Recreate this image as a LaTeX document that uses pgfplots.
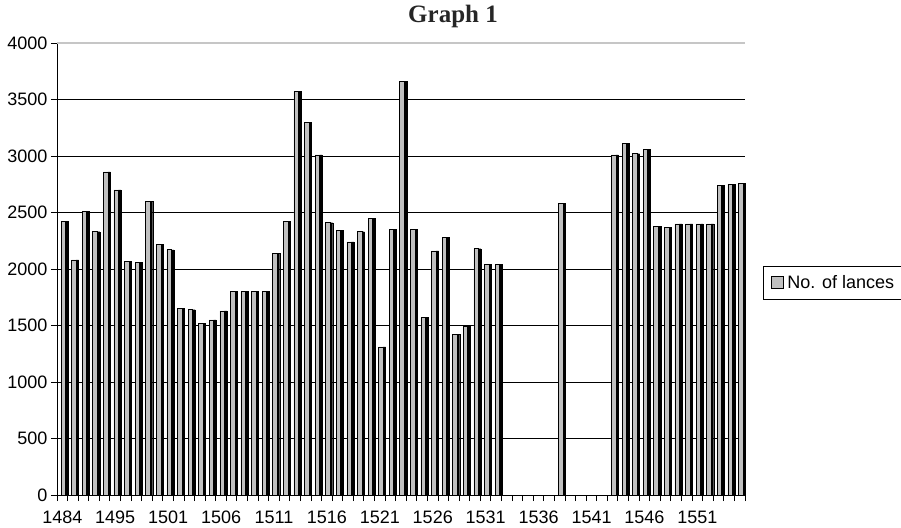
\documentclass[border=0pt]{standalone}
\usepackage{pgfplots}
\usepackage{pgfplotstable}
\pgfplotsset{compat=1.18}
\usepackage{fontspec}
\setmainfont{Liberation Sans}
\newfontfamily\titlefont{Liberation Serif}
\definecolor{barg}{HTML}{C0C0C0}
\pgfplotstableread{
x y
0 2420
1 2080
2 2510
3 2330
4 2860
5 2700
6 2070
7 2060
8 2600
9 2220
10 2170
11 1650
12 1640
13 1520
14 1550
15 1630
16 1800
17 1800
18 1800
19 1800
20 2140
21 2420
22 3570
23 3300
24 3010
25 2410
26 2340
27 2240
28 2330
29 2450
30 1310
31 2350
32 3660
33 2350
34 1570
35 2160
36 2280
37 1420
38 1490
39 2180
40 2040
41 2040
47 2580
52 3010
53 3110
54 3020
55 3060
56 2380
57 2370
58 2400
59 2400
60 2400
61 2400
62 2740
63 2750
64 2760
}\lances
\begin{document}
\begin{tikzpicture}[x=1pt,y=1pt]
\path[use as bounding box] (0,0) rectangle (901,-527);
\node[anchor=base, font=\titlefont\bfseries\fontsize{25}{28}\selectfont, text=black!85] at (453,-23) {Graph 1};
\begin{axis}[
 at={(57pt,-495pt)}, anchor=south west,
 scale only axis, width=688pt, height=452pt,
 xmin=-0.5, xmax=64.5, ymin=0, ymax=4000,
 axis x line=bottom, axis y line=left,
 axis line style={-, black, line width=1pt},
 ytick={0,500,...,4000},
 xtick={-0.5,0.5,...,64.5}, xticklabels={},
 extra x ticks={0,5,...,60},
 extra x tick labels={1484,1495,1501,1506,1511,1516,1521,1526,1531,1536,1541,1546,1551},
 extra x tick style={major tick length=0pt, xticklabel style={anchor=base, yshift=-28pt}},
 tick align=outside, major tick length=6pt,
 tick style={black, line width=1pt},
 ymajorgrids, grid style={black, line width=1pt},
 /pgf/number format/assume math mode=true,
 /pgf/number format/set thousands separator={},
 tick label style={font=\fontsize{18}{20}\selectfont},
 clip=false,
 legend style={at={(axis description cs:1.026,0.5066)}, anchor=north west,
   draw=black, line width=1pt, font=\fontsize{18}{20}\selectfont,
   inner xsep=5pt, inner ysep=7pt, cells={anchor=west}},
 legend image code/.code={\path[draw=none,fill=none] (-3pt,-1pt) rectangle (14pt,1pt);\draw[fill=barg, draw=black, line width=0.7pt] (0pt,-6pt) rectangle (12pt,6pt);},
]
\addplot[ybar, bar width=2.5pt, bar shift=4.5pt, fill=black, draw=black, line width=0.3pt, forget plot] table[x=x,y=y] {\lances};
\addplot[ybar, bar width=4.5pt, bar shift=1pt, fill=barg, draw=black, line width=0.6pt] table[x=x,y=y] {\lances};
\addlegendentry{No. of lances}
\draw[gray!45, line width=1.2pt] (axis cs:-0.5,4000) -- (axis cs:64.5,4000);
\end{axis}
\end{tikzpicture}
\end{document}
